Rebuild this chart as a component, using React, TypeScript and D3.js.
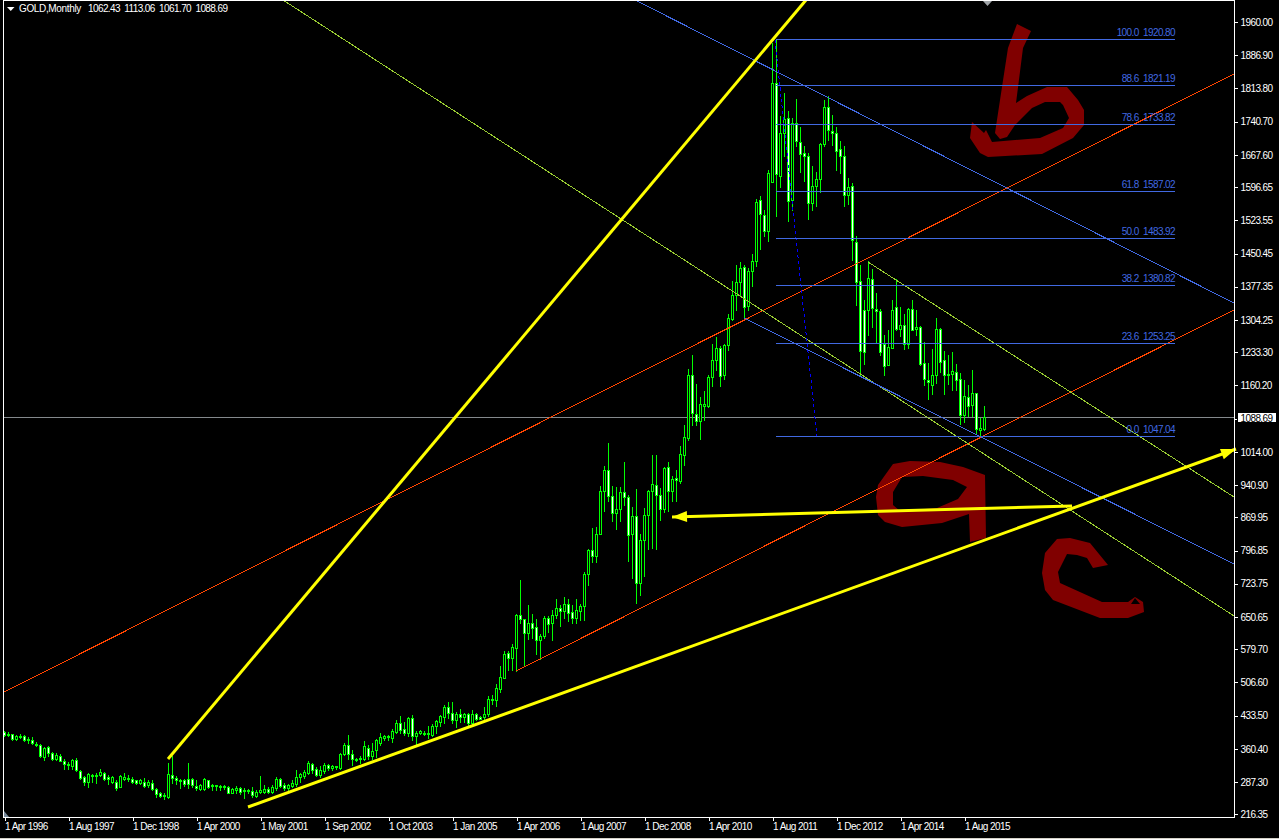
import React, { useRef, useEffect } from 'react';
import * as d3 from 'd3';

// monthly bars: open, high, low, close
const bars1996to1998 = [
  [396,399,388,390],[393,397,388,392],[391,393,379,381],[381,389,379,387],[385,392,384,387],[388,390,377,379],[381,385,373,379],[379,385,370,372],
  [370,375,365,369],[368,370,341,344],[342,363,335,362],[364,366,344,351],[351,353,335,338],[338,351,335,345],[343,347,332,333],[333,337,315,325],
  [323,331,315,327],[321,338,316,334],[335,339,310,312],[310,312,294,296],[298,300,280,287],[287,306,276,304],[300,305,287,301],[301,306,285,302],
  [301,315,299,309],[306,309,290,293],[298,302,282,292],[287,300,285,298],[286,290,269,274],[276,301,275,299],[293,306,290,297],[296,301,288,293],
  [293,297,285,287],[290,291,281,285],[285,293,282,290],[287,296,276,278],[279,290,276,287],[285,290,269,271],[271,274,254,261],[262,265,253,256],
];
const bars1999to2002 = [
  [257,262,250,255],[254,328,252,304],[301,343,284,296],[296,299,281,290],[291,294,274,288],[290,293,278,282],[293,329,273,282],[294,296,275,279],
  [278,290,268,273],[271,282,268,279],[271,295,268,293],[290,291,274,276],[279,281,269,277],[279,279,269,277],[278,280,268,277],[277,279,271,276],
  [276,278,262,263],[263,274,262,271],[268,278,263,274],[273,276,260,265],[269,273,252,266],[269,271,262,266],[266,276,253,257],[256,269,253,265],
  [265,300,262,268],[265,280,263,271],[271,275,262,265],[265,280,263,276],[273,297,269,293],[293,296,275,277],[280,284,269,273],[273,282,268,279],
  [278,290,275,285],[282,312,278,297],[297,307,287,304],[300,313,296,309],[306,332,304,329],[326,329,307,313],[314,319,300,302],[302,321,297,313],
  [311,328,307,324],[323,326,313,317],[318,324,313,321],[319,322,316,321],
];
const bars2003to2006 = [
  [317,350,315,348],[348,373,345,367],[367,390,338,348],[349,356,324,337],[338,340,332,334],[336,343,328,340],[338,376,335,365],[362,368,338,343],
  [343,372,338,355],[356,381,341,378],[373,395,368,385],[383,390,379,387],[385,390,379,387],[384,403,375,399],[397,422,394,417],[416,432,395,401],
  [403,419,390,395],[394,429,387,427],[427,434,378,387],[387,398,370,395],[394,401,392,398],[395,398,390,393],[395,410,384,392],[390,414,387,410],
  [409,423,394,420],[418,434,409,431],[429,455,416,451],[451,463,427,438],[438,463,416,422],[422,441,408,436],[436,447,419,429],[429,439,419,436],
  [436,439,412,417],[416,445,410,436],[436,439,422,426],[430,432,425,426],[429,451,426,436],[435,476,432,469],[466,478,458,469],[466,502,454,493],
  [492,542,485,517],[516,574,515,568],[570,574,533,560],[560,590,532,583],[581,657,530,654],[654,731,636,644],[645,646,542,615],[614,676,601,636],
];
const bars2007to2010 = [
  [636,657,603,626],[627,646,568,598],[598,612,557,608],[607,651,604,648],[647,651,617,635],[637,665,599,654],[654,689,647,669],[669,676,630,663],
  [663,693,647,678],[678,689,640,659],[660,676,637,648],[648,689,637,665],[663,679,642,674],[673,748,642,745],[744,799,720,797],[797,845,770,783],
  [783,847,771,832],[833,938,833,927],[926,982,883,974],[974,1032,904,916],[916,937,860,878],[878,935,844,887],[887,935,860,925],[925,990,897,913],
  [913,918,772,831],[833,891,735,872],[872,931,681,724],[725,833,698,820],[818,889,740,874],[874,930,800,927],[927,1007,801,942],[941,1007,800,919],
  [919,933,864,888],[888,979,880,978],[979,990,882,926],[926,960,904,953],[955,974,904,952],[948,1025,944,1008],[1007,1073,985,1045],[1043,1196,1040,1181],
  [1181,1227,1073,1098],[1096,1163,1073,1080],[1080,1133,1041,1119],[1113,1146,1084,1119],[1113,1182,1111,1178],[1177,1251,1157,1215],[1215,1266,1194,1242],[1241,1245,1157,1179],
];
const bars2011to2013 = [
  [1181,1251,1174,1249],[1247,1317,1236,1308],[1306,1388,1304,1358],[1358,1425,1324,1387],[1386,1431,1359,1418],[1419,1425,1305,1332],[1333,1418,1324,1411],[1410,1449,1379,1433],
  [1432,1570,1421,1563],[1567,1577,1459,1536],[1534,1546,1489,1498],[1500,1634,1476,1627],[1606,1912,1606,1825],[1825,1920,1531,1625],[1619,1753,1595,1715],[1715,1803,1665,1746],
  [1748,1764,1522,1564],[1568,1748,1545,1737],[1737,1790,1685,1696],[1694,1727,1628,1669],[1671,1685,1610,1665],[1664,1671,1526,1561],[1561,1641,1545,1597],[1597,1629,1553,1614],
  [1614,1693,1584,1691],[1690,1788,1685,1772],[1772,1797,1700,1721],[1720,1755,1689,1715],[1715,1728,1634,1674],[1680,1698,1627,1665],[1665,1685,1553,1578],[1579,1616,1559,1596],
  [1599,1605,1436,1479],[1475,1489,1337,1386],[1389,1425,1181,1234],
];
const bars2014to2015 = [
  [1324,1348,1207,1232],[1324,1432,1271,1396],[1393,1415,1287,1330],[1327,1363,1252,1322],[1323,1327,1227,1232],[1250,1269,1181,1201],[1203,1280,1203,1244],[1241,1346,1241,1325],
  [1332,1393,1282,1283],[1283,1332,1267,1292],[1292,1317,1240,1250],[1250,1330,1241,1328],[1327,1346,1280,1282],[1283,1324,1270,1288],[1288,1289,1203,1207],[1208,1255,1159,1173],
  [1172,1208,1130,1167],[1160,1240,1141,1183],[1183,1308,1164,1284],[1284,1286,1189,1211],[1214,1234,1141,1183],[1184,1225,1163,1183],[1184,1233,1150,1191],[1189,1207,1150,1170],
  [1173,1186,1074,1095],[1095,1172,1079,1136],[1134,1159,1091,1113],[1115,1192,1091,1142],[1142,1142,1054,1064],[1061,1087,1047,1065],[1062.43,1113.06,1061.7,1088.69],
];

const priceTicks = [1960, 1886.9, 1813.8, 1740.7, 1667.6, 1596.65, 1523.55, 1450.45, 1377.35, 1304.25, 1233.3, 1160.2, 1087.1, 1014, 940.9, 869.95, 796.85, 723.75, 650.65, 579.7, 506.6, 433.5, 360.4, 287.3, 216.35];
const dateLabels = ['1 Apr 1996', '1 Aug 1997', '1 Dec 1998', '1 Apr 2000', '1 May 2001', '1 Sep 2002', '1 Oct 2003', '1 Jan 2005', '1 Apr 2006', '1 Aug 2007', '1 Dec 2008', '1 Apr 2010', '1 Aug 2011', '1 Dec 2012', '1 Apr 2014', '1 Aug 2015'];
const lastQuote = [1062.43, 1113.06, 1061.7, 1088.69];

const fibLevels = [100, 88.6, 78.6, 61.8, 50, 38.2, 23.6, 0];
const fibPrices = [1920.8, 1821.19, 1733.82, 1587.02, 1483.92, 1380.82, 1253.25, 1047.04];
const fibStartBar = 193;
const fibEndBar = 292.75;
const fibTrend = [[192.75, 1920.8], [203.25, 1047.04]];

// trendlines as [bar, price] end points
const redLines = [
  [[0, 485.5], [307.5, 1845.5]],
  [[128, 531.7], [307.5, 1326.2]],
];
const oliveLines = [
  [[69.75, 2008.4], [307.5, 652.8]],
  [[216, 1431.8], [307.5, 914.6]],
];
const blueLines = [
  [[157.75, 2008.4], [307.5, 1341.6]],
  [[185, 1308.6], [307.5, 767.2]],
];
const yellowLine = [[41, 338.1], [200.5, 2008.4]];
const yellowArrows = [
  [[61, 232.4], [308, 1020.3]],
  [[267, 894.8], [167, 870.6]],
];

// hand drawn letters, screen outlines
const letterB = [[1017,24],[1031,31],[1023,48],[1016,103],[1027,96],[1047,87],[1067,87],[1078,100],[1084,110],[1084,125],[1073,138],[1042,154],[988,157],[980,153],[970,138],[972,122],[984,133],[986,130],[992,142],[1040,138],[1063,128],[1069,118],[1063,105],[1060,102],[1045,102],[1032,108],[1015,125],[1007,137],[1000,139],[995,133],[1002,87],[1008,48]];
const letterA = [[893,464],[910,461],[940,462],[963,467],[985,475],[986,538],[970,542],[969,514],[942,523],[902,527],[885,522],[878,515],[876,497],[878,485]];
const letterAHole = [[902,477],[923,476],[953,480],[967,487],[958,499],[937,508],[900,511],[893,505],[893,492]];
const letterC = [[1057,539],[1070,538],[1090,543],[1108,565],[1093,568],[1087,558],[1077,555],[1067,554],[1058,572],[1060,583],[1102,602],[1128,602],[1135,597],[1143,602],[1144,612],[1128,618],[1100,618],[1053,600],[1045,590],[1042,573],[1045,553]];
const letterCHole = [[1135,598],[1140,604],[1131,604]];

const bars = [...bars1996to1998, ...bars1999to2002, ...bars2003to2006, ...bars2007to2010, ...bars2011to2013, ...bars2014to2015];

const FONT = '"Liberation Sans", sans-serif';

const App = () => {
  const svgRef = useRef<SVGSVGElement>(null);

  useEffect(() => {
    const svg = d3.select(svgRef.current);
    svg.selectAll('*').remove();

    const width = 1279;
    const height = 839;
    const frameRight = 1234;
    const frameBottom = 817;

    const x = d3.scaleLinear().domain([0, 245]).range([4, 984]);
    const y = d3.scaleLinear().domain([216.35, 1960]).range([814.3, 22]);
    const px = (d: number[]) => [x(d[0]), y(d[1])];

    svg.append('rect').attr('width', width).attr('height', height).attr('fill', '#000');

    // letters sit under everything else
    const outline = (pts: number[][]) => 'M' + pts.map(p => p.join(',')).join('L') + 'Z';
    svg.append('path')
      .attr('d', outline(letterB) + outline(letterA) + outline(letterAHole) + outline(letterC) + outline(letterCHole))
      .attr('fill', '#800000')
      .attr('fill-rule', 'evenodd');

    // last price line
    svg.append('rect')
      .attr('x', 4).attr('y', Math.floor(y(lastQuote[3])))
      .attr('width', frameRight - 4).attr('height', 1)
      .attr('fill', '#84898c');

    // candles
    const candles = svg.append('g');
    bars.forEach((b, i) => {
      const [o, h, l, c] = b;
      const cx = Math.round(x(i));
      const top = Math.floor(y(Math.max(o, c)));
      const bottom = Math.floor(y(Math.min(o, c)));
      candles.append('rect')
        .attr('x', cx).attr('y', Math.floor(y(h)))
        .attr('width', 1).attr('height', Math.max(1, Math.floor(y(l)) - Math.floor(y(h)) + 1))
        .attr('fill', '#00ff00');
      candles.append('rect')
        .attr('x', cx - 0.5).attr('y', top + 0.5)
        .attr('width', 2).attr('height', Math.max(1, bottom - top))
        .attr('fill', c > o ? '#000' : '#fff')
        .attr('stroke', '#00ff00');
    });

    const line = d3.line();
    const drawLine = (pts: number[][], color: string, w: number, dash?: string) => {
      svg.append('path')
        .attr('d', line(pts.map(px) as [number, number][]))
        .attr('fill', 'none')
        .attr('stroke', color)
        .attr('stroke-width', w)
        .attr('stroke-dasharray', dash ?? null)
        .attr('shape-rendering', w === 1 ? 'crispEdges' : null);
    };

    redLines.forEach(l => drawLine(l, '#ff4500', 1));
    oliveLines.forEach(l => drawLine(l, '#9acd32', 1));
    blueLines.forEach(l => drawLine(l, '#4169e1', 1));

    // fibonacci retracement
    drawLine(fibTrend, '#0000ff', 1, '3 3');
    fibLevels.forEach((lvl, i) => {
      const ly = Math.floor(y(fibPrices[i]));
      svg.append('rect')
        .attr('x', x(fibStartBar)).attr('y', ly)
        .attr('width', x(fibEndBar) - x(fibStartBar)).attr('height', 1)
        .attr('fill', '#4169e1');
      svg.append('text')
        .attr('x', x(fibEndBar)).attr('y', ly - 3)
        .attr('text-anchor', 'end')
        .attr('font-family', FONT).attr('font-size', 10)
        .attr('letter-spacing', -0.6)
        .attr('fill', '#4169e1')
        .style('white-space', 'pre')
        .text(`${lvl.toFixed(1)}  ${fibPrices[i].toFixed(2)}`);
    });

    // thick yellow lines and arrows
    drawLine(yellowLine, '#ffff00', 3);
    yellowArrows.forEach(a => {
      drawLine(a, '#ffff00', 3);
      const [x0, y0] = px(a[0]);
      const [x1, y1] = px(a[1]);
      const len = Math.hypot(x1 - x0, y1 - y0);
      const ux = (x1 - x0) / len;
      const uy = (y1 - y0) / len;
      const bx = x1 - ux * 15;
      const by = y1 - uy * 15;
      svg.append('path')
        .attr('d', outline([[x1, y1], [bx - uy * 5.5, by + ux * 5.5], [bx + uy * 5.5, by - ux * 5.5]]))
        .attr('fill', '#ffff00');
    });

    // frame
    svg.append('path')
      .attr('d', `M3.5,${frameBottom + 0.5}V0.5H${frameRight + 0.5}V${frameBottom + 0.5}H3.5`)
      .attr('fill', 'none')
      .attr('stroke', '#fff')
      .attr('shape-rendering', 'crispEdges');
    svg.append('path').attr('d', 'M4,811L9,817H4Z').attr('fill', '#778899');
    svg.append('path').attr('d', 'M983,1H992L987.5,6Z').attr('fill', '#a0a4a8');
    svg.append('rect').attr('y', 838).attr('width', width).attr('height', 1).attr('fill', '#d4d0c8');

    // price axis
    const priceAxis = d3.axisRight(y)
      .tickValues(priceTicks)
      .tickSize(3)
      .tickPadding(3)
      .tickFormat(d3.format('.2f') as any);
    const gy = svg.append('g').attr('transform', `translate(${frameRight + 0.5},0)`).call(priceAxis);
    gy.select('.domain').remove();
    gy.selectAll('line').attr('stroke', '#fff').attr('shape-rendering', 'crispEdges');
    gy.selectAll('text')
      .attr('fill', '#fff').attr('font-family', FONT).attr('font-size', 10).attr('letter-spacing', -0.6);

    // date axis
    const dateAxis = d3.axisBottom(x)
      .tickValues(dateLabels.map((_, i) => i * 16))
      .tickSize(3)
      .tickPadding(2)
      .tickFormat(((_: any, i: number) => dateLabels[i]) as any);
    const gx = svg.append('g').attr('transform', `translate(0.5,${frameBottom + 0.5})`).call(dateAxis);
    gx.select('.domain').remove();
    gx.selectAll('line').attr('stroke', '#fff').attr('shape-rendering', 'crispEdges');
    gx.selectAll('text')
      .attr('text-anchor', 'start')
      .attr('fill', '#fff').attr('font-family', FONT).attr('font-size', 10).attr('letter-spacing', -0.55);

    // last price box
    const boxY = Math.floor(y(lastQuote[3])) - 5;
    svg.append('rect').attr('x', 1237.5).attr('y', boxY + 0.5).attr('width', 39).attr('height', 10)
      .attr('fill', '#fff').attr('stroke', '#000');
    svg.append('text')
      .attr('x', 1240.5).attr('y', boxY + 9.5)
      .attr('font-family', FONT).attr('font-size', 10).attr('letter-spacing', -0.6)
      .attr('fill', '#000')
      .text(lastQuote[3].toFixed(2));

    // chart title
    svg.append('path').attr('d', 'M7,7H14.5L10.75,11Z').attr('fill', '#fff');
    const titleAttrs = (t: any) => t.attr('y', 12).attr('fill', '#fff').attr('font-family', FONT).attr('font-size', 10);
    svg.append('text').attr('x', 19).call(titleAttrs).attr('letter-spacing', -0.35).text('GOLD,Monthly');
    svg.append('text').attr('x', 88).call(titleAttrs).attr('letter-spacing', -0.6)
      .style('white-space', 'pre')
      .text(lastQuote.map(d => d.toFixed(2)).join('  '));
  }, []);

  return <svg ref={svgRef} width={1279} height={839} style={{ position: 'fixed', left: 0, top: 0 }}></svg>;
};

export default App;
